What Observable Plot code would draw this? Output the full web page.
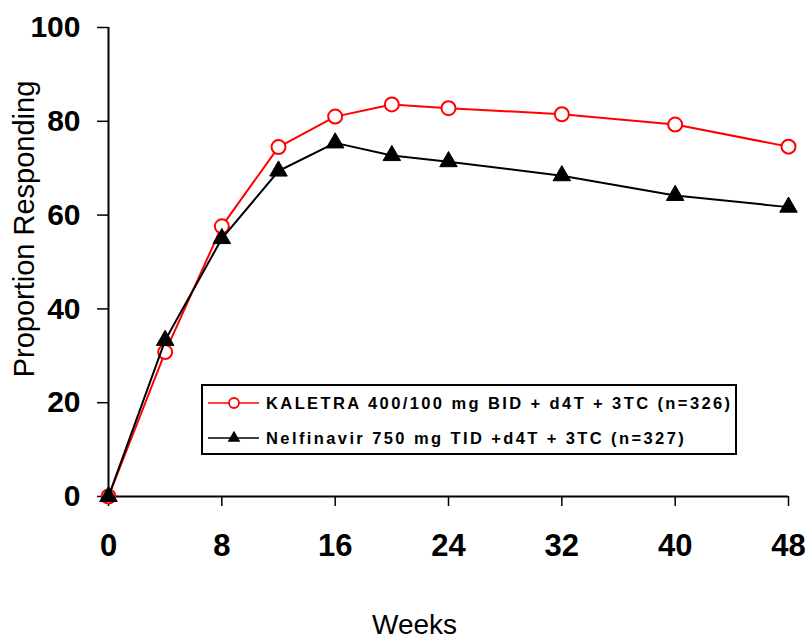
<!DOCTYPE html>
<html>
<head>
<meta charset="utf-8">
<script src="https://cdn.jsdelivr.net/npm/d3@7"></script>
<script src="https://cdn.jsdelivr.net/npm/@observablehq/plot@0.6"></script>
<style>
  html, body { margin: 0; padding: 0; background: white; }
  #wrap { position: relative; width: 807px; height: 640px; font-family: "Liberation Sans", Arial, sans-serif; }
  #legend {
    position: absolute; left: 201px; top: 384px; width: 532px; height: 67px;
    border: 2px solid black; background: white; box-sizing: content-box;
  }
  .row { position: absolute; left: 5px; height: 20px; display: flex; align-items: center; }
  .row span { font-weight: bold; font-size: 16.5px; letter-spacing: 2.4px; white-space: nowrap; margin-left: 6px; color: black; }
</style>
</head>
<body>
<div id="wrap"></div>
<script>
const weeks = [0, 4, 8, 12, 16, 20, 24, 32, 40, 48];
const kaletra = [0, 30.8, 57.6, 74.5, 81.0, 83.6, 82.8, 81.5, 79.3, 74.6];
const nelfinavir = [0, 33.3, 55.0, 69.4, 75.4, 72.7, 71.4, 68.4, 64.2, 61.7];
const seriesNames = [
  "KALETRA 400/100 mg BID + d4T + 3TC (n=326)",
  "Nelfinavir 750 mg TID +d4T + 3TC (n=327)"
];
const xTicks = [0, 8, 16, 24, 32, 40, 48];
const yTicks = [0, 20, 40, 60, 80, 100];
const xTitle = "Weeks";
const yTitle = "Proportion Responding";

const kal = weeks.map((w, i) => ({week: w, value: kaletra[i]}));
const nel = weeks.map((w, i) => ({week: w, value: nelfinavir[i]}));

const chart = Plot.plot({
  width: 807,
  height: 640,
  marginLeft: 108,
  marginRight: 19,
  marginTop: 27,
  marginBottom: 144,
  x: {domain: [0, 48]},
  y: {domain: [0, 100]},
  style: {fontFamily: "'Liberation Sans', Arial, sans-serif", background: "white", color: "black", overflow: "visible"},
  marks: [
    Plot.axisX({ticks: xTicks, tickSize: 10, tickPadding: 27, fontSize: 31, fontWeight: "bold", label: null, strokeWidth: 1.5}),
    Plot.axisY({ticks: yTicks, tickSize: 11, tickPadding: 17, fontSize: 30, fontWeight: "bold", label: null, strokeWidth: 1.5}),
    Plot.ruleX([0], {strokeWidth: 2}),
    Plot.ruleY([0], {strokeWidth: 2}),
    Plot.line(kal, {x: "week", y: "value", stroke: "#ff0000", strokeWidth: 2}),
    Plot.dot(kal, {x: "week", y: "value", symbol: "circle", r: 7, fill: "white", stroke: "#ff0000", strokeWidth: 2}),
    Plot.line(nel, {x: "week", y: "value", stroke: "black", strokeWidth: 2}),
    Plot.dot(nel, {x: "week", y: "value", symbol: "triangle", r: 6.5, fill: "black", stroke: "black", strokeWidth: 1}),
    Plot.text([yTitle], {frameAnchor: "left", textAnchor: "middle", lineAnchor: "middle", rotate: -90, dx: -84, dy: -33, fontSize: 29, fill: "black"}),
    Plot.text([xTitle], {frameAnchor: "bottom", textAnchor: "middle", lineAnchor: "middle", dx: -34, dy: 129, fontSize: 28, fill: "black"})
  ]
});

const wrap = document.getElementById("wrap");
wrap.appendChild(chart);

// Legend (inside plot area, as in the reference)
const legend = document.createElement("div");
legend.id = "legend";
const swatches = [
  {color: "#ff0000", symbol: "circle"},
  {color: "black", symbol: "triangle"}
];
const rowTops = [7, 42];
seriesNames.forEach((name, i) => {
  const row = document.createElement("div");
  row.className = "row";
  row.style.top = rowTops[i] + "px";
  const svg = d3.create("svg").attr("width", 52).attr("height", 20);
  svg.append("line").attr("x1", 0).attr("x2", 51).attr("y1", 10).attr("y2", 10)
    .attr("stroke", swatches[i].color).attr("stroke-width", 1.5);
  if (swatches[i].symbol === "circle") {
    svg.append("circle").attr("cx", 26).attr("cy", 10).attr("r", 5)
      .attr("fill", "white").attr("stroke", swatches[i].color).attr("stroke-width", 1.8);
  } else {
    svg.append("path").attr("transform", "translate(26,10)")
      .attr("d", d3.symbol(d3.symbolTriangle, 70)()).attr("fill", "black");
  }
  row.appendChild(svg.node());
  const span = document.createElement("span");
  span.textContent = name;
  row.appendChild(span);
  legend.appendChild(row);
});
wrap.appendChild(legend);
</script>
</body>
</html>
